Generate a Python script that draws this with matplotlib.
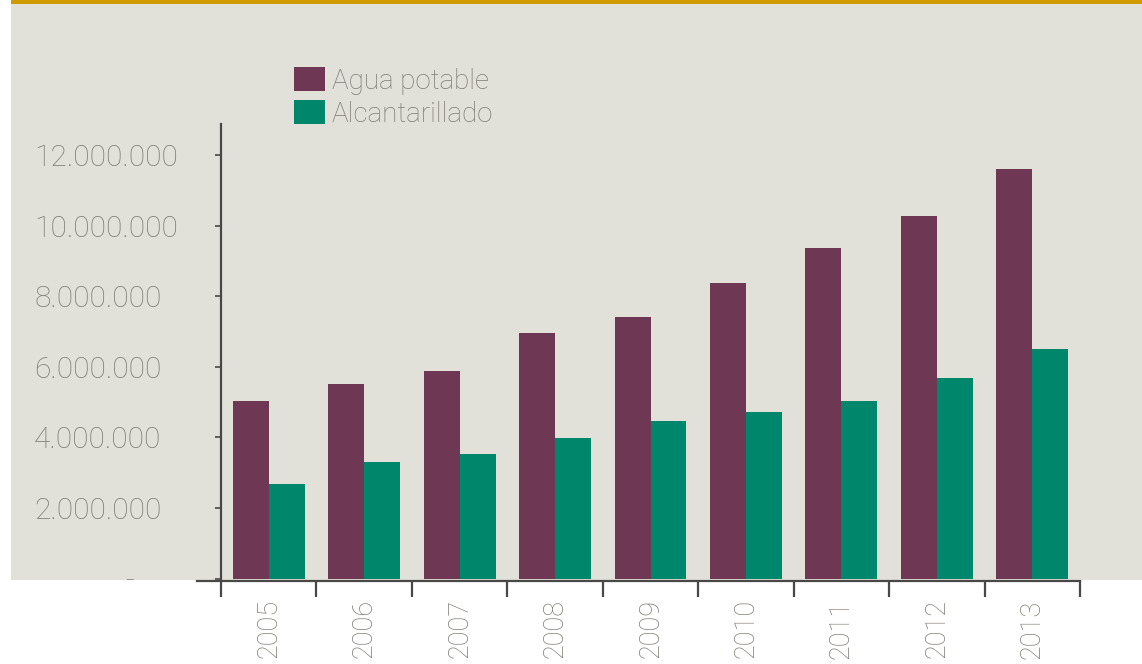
import matplotlib
matplotlib.use("Agg")
import matplotlib.pyplot as plt
from matplotlib.patches import Rectangle
from matplotlib.ticker import FixedLocator, FuncFormatter
import numpy as np

years = ["2005", "2006", "2007", "2008", "2009", "2010", "2011", "2012", "2013"]
agua_potable = [5040000, 5520000, 5890000, 6950000, 7400000, 8370000, 9370000, 10280000, 11610000]
alcantarillado = [2680000, 3300000, 3530000, 3990000, 4470000, 4730000, 5040000, 5690000, 6490000]
series_names = ["Agua potable", "Alcantarillado"]
y_ticks = [0, 2000000, 4000000, 6000000, 8000000, 10000000, 12000000]

C_AGUA = "#6e3753"
C_ALC = "#00876b"
C_BG = "#e1e0d9"
C_GOLD = "#d19b00"
C_TEXT = "#7f7a75"
C_AXIS = "#4a4846"

FONT = dict(family="Roboto", weight="light")

W, H = 1142, 664
fig = plt.figure(figsize=(W / 100, H / 100), dpi=100)
fig.patch.set_facecolor("white")

# panel background and top rule (pixel coordinates converted to figure fraction)
fig.patches.append(Rectangle((11 / W, (H - 580) / H), (W - 11) / W, 576 / H,
                             transform=fig.transFigure, facecolor=C_BG, edgecolor="none", zorder=-10))
fig.patches.append(Rectangle((11 / W, (H - 4) / H), (W - 11) / W, 4 / H,
                             transform=fig.transFigure, facecolor=C_GOLD, edgecolor="none", zorder=-10))

ax = fig.add_axes([197 / W, (H - 578.5) / H, (1080 - 197) / W, (578.5 - 124) / H])
ax.set_facecolor("none")

x = np.arange(len(years))
bw = 0.377
ax.bar(x - bw / 2, agua_potable, bw, color=C_AGUA, label=series_names[0], zorder=2)
ax.bar(x + bw / 2, alcantarillado, bw, color=C_ALC, label=series_names[1], zorder=2)

ax.set_xlim(-0.7515, 8.5)
ax.set_ylim(0, 12880000)

for s in ["top", "right"]:
    ax.spines[s].set_visible(False)
ax.spines["left"].set_position(("data", -0.5))
ax.spines["bottom"].set_position(("outward", 2))
for s in ["left", "bottom"]:
    ax.spines[s].set_color(C_AXIS)
    ax.spines[s].set_linewidth(1.6)

# x axis: boundary ticks (major) and year labels at centres (minor)
ax.xaxis.set_major_locator(FixedLocator(np.arange(-0.5, len(years), 1.0)))
ax.xaxis.set_minor_locator(FixedLocator(x))
ax.tick_params(axis="x", which="major", length=11.5, width=1.6, color=C_AXIS, labelbottom=False)
ax.tick_params(axis="x", which="minor", length=0, pad=13)
ax.set_xticks(x, years, minor=True)
for lab in ax.get_xticklabels(minor=True):
    lab.set_rotation(90)
    lab.set_color(C_TEXT)
    lab.set_fontsize(19.5)
    lab.set_fontfamily(FONT["family"])
    lab.set_fontweight(FONT["weight"])
    lab.set_va("top")

# y axis
ax.yaxis.set_major_locator(FixedLocator(y_ticks))
ax.yaxis.set_major_formatter(FuncFormatter(
    lambda v, p: "-" if v == 0 else f"{int(v):,}".replace(",", ".")))
ax.tick_params(axis="y", length=4.3, width=1.2, color=C_AXIS, pad=130.3)
for lab in ax.get_yticklabels():
    lab.set_ha("left")
    lab.set_color(C_TEXT)
    lab.set_fontsize(21.5)
    lab.set_fontfamily(FONT["family"])
    lab.set_fontweight(FONT["weight"])
ax.yaxis.get_major_ticks()[0].set_pad(64.8)

leg = ax.legend(loc="upper left", bbox_to_anchor=(294 / W, (H - 67) / H),
                bbox_transform=fig.transFigure, frameon=False,
                prop=dict(size=20, **FONT), handlelength=1.1, handleheight=0.95,
                handletextpad=0.25, labelspacing=0.2, borderaxespad=0, borderpad=0)
for t in leg.get_texts():
    t.set_color(C_TEXT)

fig.savefig("out.png", dpi=100)
